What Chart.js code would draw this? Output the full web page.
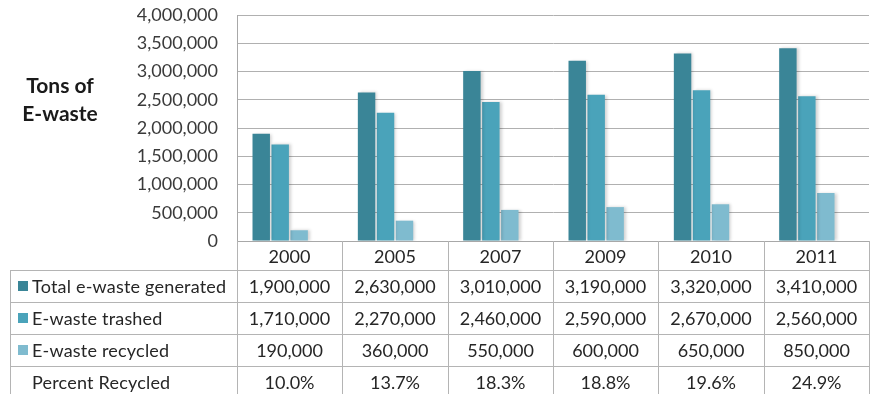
<!DOCTYPE html>
<html>
<head>
<meta charset="utf-8">
<script src="https://cdn.jsdelivr.net/npm/chart.js@4/dist/chart.umd.min.js"></script>
<style>
  html, body { margin: 0; padding: 0; background: #ffffff; }
  #wrap { position: relative; width: 875px; height: 394px; overflow: hidden; }
  #chart { position: absolute; left: 0; top: 0; }
  #ytitle { position: absolute; left: 10px; top: 71px; width: 100px; text-align: center;
            font-family: Lato, "Noto Sans", sans-serif; font-weight: bold; font-size: 21px;
            line-height: 28px; color: #1a1a1a; }
  .cell { position: absolute; box-sizing: border-box; font-family: Lato, "Noto Sans", sans-serif;
          font-size: 18px; color: #262626; display: flex; align-items: center; justify-content: center;
          white-space: nowrap; }
  .lab { justify-content: flex-start; padding-left: 8px; letter-spacing: 0.2px; }
  .mk { display: inline-block; width: 10px; height: 10px; margin-right: 4px; }
  .hl { position: absolute; background: #b4b4b4; height: 1px; }
  .vl { position: absolute; background: #b4b4b4; width: 1px; }
</style>
</head>
<body>
<div id="wrap">
  <canvas id="chart" width="875" height="394"></canvas>
  <div id="ytitle">Tons of<br>E-waste</div>
</div>
<script>
const categories = ['2000', '2005', '2007', '2009', '2010', '2011'];
const totalGenerated = [1900000, 2630000, 3010000, 3190000, 3320000, 3410000];
const trashed = [1710000, 2270000, 2460000, 2590000, 2670000, 2560000];
const recycled = [190000, 360000, 550000, 600000, 650000, 850000];
const percentRecycled = [10.0, 13.7, 18.3, 18.8, 19.6, 24.9];
const seriesNames = ['Total e-waste generated', 'E-waste trashed', 'E-waste recycled', 'Percent Recycled'];
const yTickValues = [0, 500000, 1000000, 1500000, 2000000, 2500000, 3000000, 3500000, 4000000];
const colors = ['#3a8597', '#4aa3ba', '#7fbbcf', 'rgba(0,0,0,0)'];

const fmt = v => v.toLocaleString('en-US');

const shadowPlugin = {
  id: 'barShadow',
  beforeDatasetsDraw(chart) {
    const c = chart.ctx;
    c.save();
    c.shadowColor = 'rgba(0,0,0,0.18)';
    c.shadowBlur = 3;
    c.shadowOffsetX = 2;
    c.shadowOffsetY = 0;
  },
  afterDatasetsDraw(chart) { chart.ctx.restore(); }
};

const chart = new Chart(document.getElementById('chart'), {
  type: 'bar',
  data: {
    labels: categories,
    datasets: [
      { label: seriesNames[0], data: totalGenerated, backgroundColor: colors[0] },
      { label: seriesNames[1], data: trashed, backgroundColor: colors[1] },
      { label: seriesNames[2], data: recycled, backgroundColor: colors[2] },
      { label: seriesNames[3], data: percentRecycled, backgroundColor: colors[3] }
    ]
  },
  options: {
    responsive: false,
    animation: false,
    datasets: { bar: { categoryPercentage: 0.72, barPercentage: 0.92 } },
    layout: { padding: { top: 15, right: 6, bottom: 153, left: 0 } },
    plugins: { legend: { display: false }, tooltip: { enabled: false } },
    scales: {
      x: {
        grid: { display: false, drawTicks: false },
        border: { display: true, color: '#a8a8a8' },
        ticks: { display: false },
        afterFit(s) { s.height = 0; }
      },
      y: {
        min: 0, max: 4000000,
        afterBuildTicks(s) { s.ticks = yTickValues.map(v => ({ value: v })); },
        ticks: {
          padding: 19, color: '#3a3a3a',
          font: { family: 'Lato', size: 18 },
          callback: v => fmt(v)
        },
        grid: { color: '#b0b0b0', drawTicks: false },
        border: { display: true, color: '#a8a8a8' },
        afterFit(s) { s.width = 237; s.paddingTop = 0; s.paddingBottom = 0; }
      }
    }
  },
  plugins: [shadowPlugin]
});

// Data table below the plot, aligned to the category scale
(function buildTable() {
  const wrap = document.getElementById('wrap');
  const area = chart.chartArea;
  const xs = chart.scales.x;
  const top = Math.round(area.bottom);
  const headerH = 29;
  const rowH = 32;
  const tableLeft = 10;
  const right = Math.round(area.right);
  const bounds = [Math.round(area.left)];
  for (let i = 0; i < categories.length; i++) {
    const c = xs.getPixelForValue(i);
    const next = i < categories.length - 1 ? (c + xs.getPixelForValue(i + 1)) / 2 : area.right;
    bounds.push(Math.round(next));
  }
  function add(cls, style, html) {
    const d = document.createElement('div');
    d.className = cls;
    Object.assign(d.style, style);
    if (html !== undefined) d.innerHTML = html;
    wrap.appendChild(d);
    return d;
  }
  const rows = [totalGenerated.map(fmt), trashed.map(fmt), recycled.map(fmt), percentRecycled.map(v => v.toFixed(1) + '%')];
  categories.forEach((cat, i) => {
    add('cell', { left: bounds[i] + 'px', top: top + 'px', width: (bounds[i + 1] - bounds[i]) + 'px', height: headerH + 'px' }, cat);
  });
  rows.forEach((vals, r) => {
    const y = top + headerH + r * rowH;
    const mk = r < 3 ? '<span class="mk" style="background:' + colors[r] + '"></span>' : '<span class="mk"></span>';
    add('cell lab', { left: tableLeft + 'px', top: y + 'px', width: (bounds[0] - tableLeft) + 'px', height: rowH + 'px' }, mk + seriesNames[r]);
    vals.forEach((v, i) => {
      add('cell', { left: bounds[i] + 'px', top: y + 'px', width: (bounds[i + 1] - bounds[i]) + 'px', height: rowH + 'px' }, v);
    });
  });
  for (let r = 0; r <= rows.length; r++) {
    const y = top + headerH + r * rowH;
    add('hl', { left: tableLeft + 'px', top: y + 'px', width: (right - tableLeft + 1) + 'px' });
  }
  const bottom = top + headerH + rows.length * rowH;
  bounds.forEach(b => add('vl', { left: b + 'px', top: top + 'px', height: (bottom - top) + 'px' }));
  add('vl', { left: tableLeft + 'px', top: (top + headerH) + 'px', height: (bottom - top - headerH) + 'px' });
})();
</script>
</body>
</html>
